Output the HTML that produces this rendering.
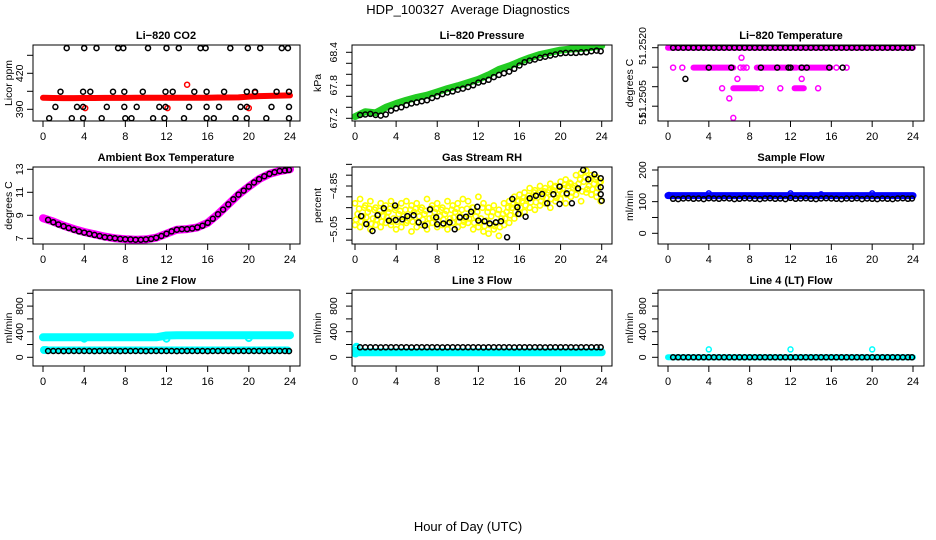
<!DOCTYPE html>
<html><head><meta charset="utf-8"><style>
html,body{margin:0;padding:0;background:#fff;}
svg{display:block;font-family:"Liberation Sans",sans-serif;}
</style></head><body>
<svg id="chart" width="936" height="540" viewBox="0 0 936 540" xmlns="http://www.w3.org/2000/svg">
<text x="468" y="14" text-anchor="middle" font-size="13" xml:space="preserve">HDP_100327  Average Diagnostics</text>
<text x="468" y="531" text-anchor="middle" font-size="13">Hour of Day (UTC)</text>
</svg>
<script>
// ---------- data ----------
const xTickHours = [0,4,8,12,16,20,24];
const hours25 = [0,1,2,3,4,5,6,7,8,9,10,11,12,13,14,15,16,17,18,19,20,21,22,23,24];
const halfHours = [0.5,1,1.5,2,2.5,3,3.5,4,4.5,5,5.5,6,6.5,7,7.5,8,8.5,9,9.5,10,10.5,11,11.5,12,12.5,13,13.5,14,14.5,15,15.5,16,16.5,17,17.5,18,18.5,19,19.5,20,20.5,21,21.5,22,22.5,23,23.5,23.9];

// CO2
const co2BlackX = [2.3,4.0,5.2,7.3,7.8,10.2,12.0,13.2,15.3,15.8,18.2,19.9,21.1,23.2,23.8,
  1.7,3.9,4.6,6.8,7.9,9.7,11.9,12.6,14.7,15.9,17.6,19.8,20.6,22.7,23.9,
  1.2,3.3,3.9,6.2,7.9,9.1,11.3,11.9,14.2,15.9,17.1,19.2,19.8,22.2,23.9,
  0.6,2.8,3.9,5.7,8.0,8.6,10.7,11.8,13.7,15.9,16.6,18.7,19.8,21.7,23.9];
const co2BlackY = [441,441,441,441,441,441,441,441,441,441,441,441,441,441,441,
  404.7,404.7,404.7,404.7,404.7,404.7,404.7,404.7,404.7,404.7,404.7,404.7,404.7,404.7,404.7,
  392,392,392,392,392,392,392,392,392,392,392,392,392,392,392,
  382.5,382.5,382.5,382.5,382.5,382.5,382.5,382.5,382.5,382.5,382.5,382.5,382.5,382.5,382.5];
const co2Red = [399.6,399.4,399.3,399.3,399.4,399.4,399.5,399.5,399.5,399.6,399.6,399.6,399.6,399.7,399.7,399.7,399.7,399.8,399.8,399.9,400.6,401.0,401.2,401.4,401.6];
const co2RedOutX = [14.0,4.1,12.1,20.0,20.6];
const co2RedOutY = [410.5,391,391,391,404];

// Pressure
const presGreen = [67.23,67.32,67.30,67.40,67.47,67.53,67.58,67.62,67.68,67.74,67.79,67.85,67.91,67.99,68.09,68.15,68.23,68.30,68.36,68.40,68.44,68.46,68.47,68.49,68.52];
const presBlack = [67.26,67.27,67.28,67.26,67.25,67.27,67.34,67.38,67.40,67.44,67.47,67.49,67.51,67.53,67.57,67.60,67.64,67.67,67.69,67.72,67.74,67.77,67.80,67.85,67.87,67.90,67.95,67.99,68.02,68.05,68.10,68.16,68.22,68.25,68.27,68.30,68.32,68.34,68.36,68.38,68.39,68.39,68.39,68.40,68.40,68.42,68.43,68.42];

// Li-820 temperature
const tempTopBand = [51.2520,51.2520];
const tempTopBandX = [0,24];
const tempMidSegStart = [2.5,8.7,12.9];
const tempMidSegEnd = [6.4,12.6,15.9];
const tempMidSegVal = [51.25149,51.25149,51.25149];
const tempLowSegStart = [6.4,12.4];
const tempLowSegEnd = [8.7,13.3];
const tempLowSegVal = [51.25096,51.25096];
const tempMagX = [0.5,1.4,7.1,7.4,7.7,17.5,16.5,5.3,9.1,11.0,14.7,7.2,6.8,13.1,6.0,6.4];
const tempMagY = [51.25149,51.25149,51.25149,51.25149,51.25149,51.25149,51.25149,51.25096,51.25096,51.25096,51.25096,51.25174,51.2512,51.2512,51.2507,51.2502];
const tempBlackMidX = [4.0,6.2,9.1,10.7,11.8,12.0,13.1,13.6,15.8,17.1,1.7];
const tempBlackMidY = [51.25149,51.25149,51.25149,51.25149,51.25149,51.25149,51.25149,51.25149,51.25149,51.25149,51.2512];

// Ambient
const ambMagenta = [8.75,8.45,8.1,7.8,7.55,7.35,7.15,7.0,6.92,6.88,6.9,7.05,7.4,7.75,7.8,7.95,8.35,9.1,9.95,10.8,11.5,12.15,12.6,12.85,13.0];
const ambBlack = [8.6,8.4,8.2,8.05,7.9,7.75,7.6,7.5,7.4,7.3,7.2,7.1,7.05,7.0,6.95,6.92,6.9,6.88,6.88,6.9,6.95,7.05,7.2,7.4,7.6,7.75,7.8,7.8,7.85,7.95,8.1,8.35,8.7,9.1,9.5,9.95,10.4,10.8,11.15,11.5,11.85,12.15,12.4,12.6,12.75,12.85,12.9,12.95];

// RH
const rhYellowA = [-4.93,-4.91,-4.94,-4.92,-4.95,-4.93,-4.94,-4.92,-4.95,-4.93,-4.92,-4.94,-4.93,-4.95,-4.91,-4.94,-4.93,-4.95,-4.92,-4.94,-4.93,-4.91,-4.92,-4.95,-4.90,-4.93,-4.95,-4.94,-4.96,-4.93,-4.92,-4.90,-4.89,-4.88,-4.86,-4.87,-4.85,-4.86,-4.84,-4.85,-4.83,-4.82,-4.84,-4.80,-4.79,-4.78,-4.80,-4.81,-4.83];
const rhYellowB = [-5.03,-5.04,-5.02,-5.05,-5.03,-5.04,-5.02,-5.03,-5.05,-5.04,-5.02,-5.06,-5.04,-5.03,-5.05,-5.02,-5.04,-5.03,-5.05,-5.02,-5.04,-5.03,-5.02,-5.05,-5.04,-5.06,-5.07,-5.05,-5.08,-5.03,-5.02,-5.00,-4.98,-4.97,-4.95,-4.96,-4.94,-4.93,-4.95,-4.92,-4.91,-4.93,-4.90,-4.89,-4.92,-4.88,-4.89,-4.90,-4.92];
const rhYellowC = [-4.98,-4.99,-4.97,-5.00,-4.98,-4.99,-4.97,-5.00,-4.98,-4.99,-5.00,-4.97,-4.99,-4.98,-5.00,-4.97,-4.99,-4.98,-5.00,-4.97,-4.99,-5.00,-4.98,-4.99,-5.00,-5.01,-4.99,-5.02,-5.00,-4.97,-4.95,-4.94,-4.92,-4.91,-4.90,-4.89,-4.90,-4.88,-4.87,-4.89,-4.86,-4.85,-4.86,-4.84,-4.83,-4.85,-4.84,-4.86];
const rhBlackX = [0.6,1.1,1.7,2.2,2.8,3.3,3.9,3.96,4.6,5.1,5.7,6.2,6.8,7.3,7.9,8.0,8.6,9.2,9.7,10.2,10.8,11.3,11.9,12.0,12.6,13.1,13.7,14.2,14.8,15.3,15.8,15.9,16.6,17.0,17.6,18.2,18.7,19.3,19.9,19.9,20.6,21.1,21.7,22.2,22.7,23.3,23.9,23.9,23.9,24.0];
const rhBlackY = [-4.989,-5.026,-5.058,-4.985,-4.953,-5.01,-4.94,-5.007,-5.004,-4.989,-4.985,-5.018,-5.033,-4.958,-4.995,-5.027,-5.023,-5.018,-5.05,-4.995,-4.992,-4.969,-4.946,-5.01,-5.013,-5.023,-5.018,-5.013,-5.087,-4.91,-4.948,-4.979,-4.992,-4.907,-4.895,-4.887,-4.93,-4.888,-4.853,-4.933,-4.884,-4.93,-4.861,-4.776,-4.819,-4.796,-4.814,-4.856,-4.888,-4.918];

// Sample flow
const sampleBlue = [119,119,119,119,119,119,119,119,119,119,119,119,119,119,119,119,119,119,119,119,119,119,119,119,119];
const sampleBlueOutX = [4,12,15,20,0.1];
const sampleBlueOutY = [126,126,123,126,121];
const sampleBlack = [109,108,110,111,109,110,108,111,110,109,111,110,108,109,111,110,109,108,110,111,109,110,108,112,109,110,111,109,108,110,111,110,109,108,110,109,111,108,110,109,108,110,109,108,110,111,109,110];

// Line 2
const line2Cyan = [312,312,312,312,312,312,312,312,312,312,312,312,340,345,345,345,345,345,345,345,345,345,345,345,345];
const line2CyanOutX = [4,12,20,0.1,0.3];
const line2CyanOutY = [290,290,300,114,114];
const line2CyanLow = [114,114];
const line2CyanLowX = [0.2,23.8];
const line2Black = [98,99,98,97,99,98,98,99,98,97,98,99,98,98,97,99,98,98,99,97,98,98,99,98,98,97,99,98,98,99,98,97,98,99,98,98,97,99,98,98,99,98,97,98,99,98,98,97];

// Line 3
const line3Cyan = [78,78,78,78,78,78,78,78,78,78,78,78,78,78,78,78,78,78,78,78,78,78,78,78,78];
const line3CyanOutX = [0.05,0.1,0.1,0.15];
const line3CyanOutY = [60,100,140,165];
const line3Black = [156,156,157,156,155,156,156,157,156,156,155,156,157,156,156,156,155,156,157,156,156,156,157,156,155,156,156,157,156,156,155,156,156,157,156,156,155,156,157,156,156,156,155,156,157,156,156,156];

// Line 4
const line4Cyan = [0,0,0,0,0,0,0,0,0,0,0,0,0,0,0,0,0,0,0,0,0,0,0,0,0];
const line4CyanOutX = [4,12,20];
const line4CyanOutY = [124,124,124];
const line4Black = [0,0,0,0,0,0,0,0,0,0,0,0,0,0,0,0,0,0,0,0,0,0,0,0,0,0,0,0,0,0,0,0,0,0,0,0,0,0,0,0,0,0,0,0,0,0,0,0];

// ---------- layout ----------
const cols = [
  {l:33, r:300, x0:43, x24:290, tl:20, yt:9, tc:166},
  {l:352, r:612, x0:355, x24:601.7, tl:334, yt:318, tc:482},
  {l:658, r:924, x0:668, x24:913, tl:643, yt:630, tc:791}
];
const rows = [{t:45,b:121},{t:167,b:244},{t:290,b:366}];
const svg = document.getElementById('chart');
const NS = 'http://www.w3.org/2000/svg';
let clipId = 0;

function mk(parent, tag, attrs){
  const el = document.createElementNS(NS, tag);
  for (const k in attrs) el.setAttribute(k, attrs[k]);
  parent.appendChild(el);
  return el;
}

function panel(name, ci, ri, title, ytitle, ymap, yTicks, yLabels){
  const c = cols[ci], r = rows[ri];
  const g = mk(svg, 'g', {});
  
  
  const sx = h => c.x0 + (c.x24 - c.x0) * h / 24;
  const sy = v => ymap[1] + (v - ymap[0]) * (ymap[3] - ymap[1]) / (ymap[2] - ymap[0]);
  const t = mk(g, 'text', {x:c.tc, y:r.t - 6, 'text-anchor':'middle', 'font-size':11, 'font-weight':'bold', textLength:'', });
  t.removeAttribute('textLength');
  t.textContent = title;
  
  
  const yt = mk(g, 'text', {x:c.yt, y:(r.t + r.b)/2, 'text-anchor':'middle', 'font-size':10.5, transform:`rotate(-90 ${c.yt} ${(r.t+r.b)/2})`, 'dominant-baseline':'middle'});
  yt.textContent = ytitle;
  
  
  for (const h of xTickHours){
    const x = sx(h);
    const tk = mk(g, 'line', {x1:x, x2:x, y1:r.b, y2:r.b + 6, stroke:'#000', 'stroke-width':1});
    
    
    const tl = mk(g, 'text', {x:x, y:r.b + 19, 'text-anchor':'middle', 'font-size':11});
    tl.textContent = String(h);
    
    
  }
  for (const v of yTicks){
    const y = sy(v);
    const tk = mk(g, 'line', {x1:c.l - 6, x2:c.l, y1:y, y2:y, stroke:'#000', 'stroke-width':1});
    
    
  }
  for (const lb of yLabels){
    const y = lb.y !== undefined ? lb.y : sy(lb.v);
    const tl = mk(g, 'text', {x:c.tl, y:y, 'text-anchor':'middle', 'font-size':10.5, 'dominant-baseline':'middle', transform:`rotate(-90 ${c.tl} ${y})`});
    tl.textContent = lb.t;
    
    
  }
  const id = 'clip' + (clipId++);
  const cp = mk(g, 'clipPath', {id:id});
  mk(cp, 'rect', {x:c.l, y:r.t, width:c.r - c.l, height:r.b - r.t});
  const plot = mk(g, 'g', {'clip-path':`url(#${id})`});
  
  
  const fr = mk(g, 'rect', {x:c.l, y:r.t, width:c.r - c.l, height:r.b - r.t, fill:'none', stroke:'#000', 'stroke-width':1});
  
  
  return {sx, sy, plot, name};
}

function band(P, xs, vs, color, w, label){
  const pts = xs.map((h,i) => `${P.sx(h).toFixed(1)},${P.sy(vs[i]).toFixed(1)}`).join(' ');
  const pl = mk(P.plot, 'polyline', {points:pts, fill:'none', stroke:color, 'stroke-width':w, 'stroke-linecap':'round', 'stroke-linejoin':'round'});
  
  
}
function pts(P, xs, vs, color, label, r, sw){
  for (let i = 0; i < xs.length; i++){
    const ci = mk(P.plot, 'circle', {cx:P.sx(xs[i]).toFixed(1), cy:P.sy(vs[i]).toFixed(1), r:r || 2.5, fill:'none', stroke:color, 'stroke-width':sw || 1.5});
    
    
  }
}
function segs(P, s, e, v, color, w, label){
  for (let i = 0; i < s.length; i++) band(P, [s[i], e[i]], [v[i], v[i]], color, w, label);
}

// Row 1
let P = panel('co2', 0, 0, 'Li\u2212820 CO2', 'Licor ppm', [390,109.3,420,73.3], [390,405,420,435], [{v:390,t:'390'},{v:420,t:'420'}]);
band(P, hours25, co2Red, '#ff0000', 6, 'red-series');
pts(P, co2RedOutX, co2RedOutY, '#ff0000', 'red-point');
pts(P, co2BlackX, co2BlackY, '#000', 'black-point');

P = panel('pressure', 1, 0, 'Li\u2212820 Pressure', 'kPa', [67.2,118.3,68.4,52.3], [67.2,67.4,67.6,67.8,68.0,68.2,68.4], [{v:67.2,t:'67.2'},{v:67.8,t:'67.8'},{v:68.4,t:'68.4'}]);
band(P, hours25, presGreen, '#22cc22', 7, 'green-series');
pts(P, halfHours, presBlack, '#000', 'black-point');

P = panel('li820-temp', 2, 0, 'Li\u2212820 Temperature', 'degrees C', [51.2520,47.7,51.2505,106.2], [51.2520,51.2515,51.2510,51.2505], [{y:46,t:'51.2520'},{y:99,t:'51.2505'},{y:119,t:'51'}]);
band(P, tempTopBandX, tempTopBand, '#ff00ff', 6, 'magenta-top-band');
segs(P, tempMidSegStart, tempMidSegEnd, tempMidSegVal, '#ff00ff', 6, 'magenta-mid-band');
segs(P, tempLowSegStart, tempLowSegEnd, tempLowSegVal, '#ff00ff', 6, 'magenta-low-band');
pts(P, tempMagX, tempMagY, '#ff00ff', 'magenta-point');
pts(P, halfHours, halfHours.map(() => tempTopBand[0]), '#000', 'black-point');
pts(P, tempBlackMidX, tempBlackMidY, '#000', 'black-mid-point');

// Row 2
P = panel('ambient', 0, 1, 'Ambient Box Temperature', 'degrees C', [13,169.3,7,238.3], [7,9,11,13], [{v:7,t:'7'},{v:9,t:'9'},{v:11,t:'11'},{v:13,t:'13'}]);
band(P, hours25, ambMagenta, '#ff00ff', 8, 'magenta-series');
pts(P, halfHours, ambBlack, '#000', 'black-point');

P = panel('rh', 1, 1, 'Gas Stream RH', 'percent', [-4.85,186,-5.05,229.3], [-4.75,-4.80,-4.85,-4.90,-4.95,-5.00,-5.05,-5.10], [{v:-4.85,t:'\u22124.85'},{v:-5.05,t:'\u22125.05'}]);
pts(P, [0].concat(halfHours), rhYellowA, '#ffff00', 'yellow-point', 2.6, 1.6);
pts(P, [0].concat(halfHours), rhYellowB, '#ffff00', 'yellow-point', 2.6, 1.6);
pts(P, halfHours.map(h => h - 0.25), rhYellowC, '#ffff00', 'yellow-point', 2.6, 1.6);
pts(P, halfHours.map(h => h - 0.1), rhYellowC.map((v,i) => (v + rhYellowA[i]) / 2), '#ffff00', 'yellow-point', 2.6, 1.6);
pts(P, halfHours.map(h => h - 0.4), rhYellowC.map((v,i) => (v + rhYellowB[i]) / 2), '#ffff00', 'yellow-point', 2.6, 1.6);
pts(P, rhBlackX, rhBlackY, '#000', 'black-point');

P = panel('sample-flow', 2, 1, 'Sample Flow', 'ml/min', [200,170,0,233.3], [0,50,100,150,200], [{v:0,t:'0'},{v:100,t:'100'},{v:200,t:'200'}]);
band(P, hours25, sampleBlue, '#0000ff', 7, 'blue-series');
pts(P, sampleBlueOutX, sampleBlueOutY, '#0000ff', 'blue-point');
pts(P, halfHours, sampleBlack, '#000', 'black-point');

// Row 3
const flowTicks = [0,200,400,600,800,1000];
const flowLabels = [{v:0,t:'0'},{v:400,t:'400'},{v:800,t:'800'}];
const flowMap = [0,357.3,400,331.7];
P = panel('line2-flow', 0, 2, 'Line 2 Flow', 'ml/min', flowMap, flowTicks, flowLabels);
band(P, hours25, line2Cyan, '#00ffff', 8, 'cyan-series');
band(P, line2CyanLowX, line2CyanLow, '#00ffff', 7, 'cyan-low-series');
pts(P, line2CyanOutX, line2CyanOutY, '#00ffff', 'cyan-point', 3, 2);
pts(P, halfHours, line2Black, '#000', 'black-point');

P = panel('line3-flow', 1, 2, 'Line 3 Flow', 'ml/min', flowMap, flowTicks, flowLabels);
band(P, hours25, line3Cyan, '#00ffff', 8, 'cyan-series');
pts(P, line3CyanOutX, line3CyanOutY, '#00ffff', 'cyan-point', 3, 2);
pts(P, halfHours, line3Black, '#000', 'black-point');

P = panel('line4-flow', 2, 2, 'Line 4 (LT) Flow', 'ml/min', flowMap, flowTicks, flowLabels);
band(P, hours25, line4Cyan, '#00ffff', 6, 'cyan-series');
pts(P, line4CyanOutX, line4CyanOutY, '#00ffff', 'cyan-point');
pts(P, halfHours, line4Black, '#000', 'black-point');
</script>
</body></html>
